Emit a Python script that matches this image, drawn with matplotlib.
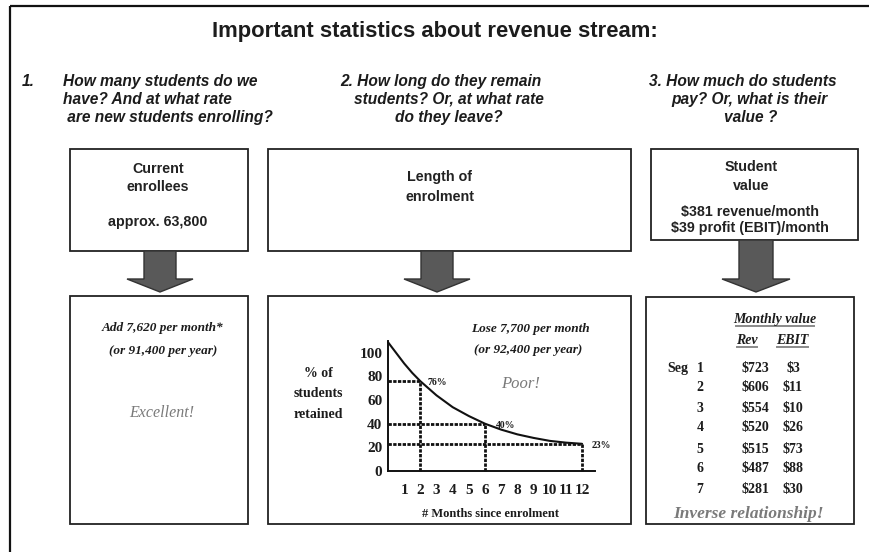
import matplotlib
matplotlib.use("Agg")
import matplotlib.pyplot as plt
from matplotlib.patches import Rectangle, Polygon

# ---------------- data ----------------
title = "Important statistics about revenue stream:"
q1_lines = ["How many students do we", "have? And at what rate", " are new students enrolling?"]
q2_lines = ["2. How long do they remain", "students? Or, at what rate", "do they leave?"]
q3_lines = ["3. How much do students", "pay? Or, what is their", "value ?"]

box1_lines = ["Current", "enrollees", "approx. 63,800"]
box2_lines = ["Length of", "enrolment"]
box3_lines = ["Student", "value", "$381 revenue/month", "$39 profit (EBIT)/month"]

add_lines = ["Add 7,620 per month*", "(or 91,400 per year)"]
lose_lines = ["Lose 7,700 per month", "(or 92,400 per year)"]

# retention curve (% of students retained vs months since enrolment)
months = [0, 0.5, 1, 1.5, 2, 3, 4, 5, 6, 7, 8, 9, 10, 11, 12]
retention = [109, 100, 91, 83, 76, 64, 54, 46.5, 40, 35, 31, 28, 25.5, 24, 23]
marked_months = [2, 6, 12]
marked_values = [76, 40, 23]
marked_labels = ["76%", "40%", "23%"]
y_ticks = [0, 20, 40, 60, 80, 100]
x_ticks = [1, 2, 3, 4, 5, 6, 7, 8, 9, 10, 11, 12]

# student value by segment
segments = ["1", "2", "3", "4", "5", "6", "7"]
seg_rev = ["$723", "$606", "$554", "$520", "$515", "$487", "$281"]
seg_ebit = ["$3", "$11", "$10", "$26", "$73", "$88", "$30"]

# ---------------- figure ----------------
W, H = 870, 552
fig = plt.figure(figsize=(W / 100, H / 100), dpi=100)
fig.patch.set_facecolor("white")
bg = fig.add_axes([0, 0, 1, 1])
bg.set_xlim(0, W)
bg.set_ylim(H, 0)
bg.axis("off")

SANS = ["Liberation Sans", "DejaVu Sans"]
SERIF = ["Liberation Serif", "DejaVu Serif"]
DARK = "#1c1c1c"
GRAY = "#7a7a7a"

# outer frame (only left/top visible)
bg.add_patch(Rectangle((10, 6), 900, 600, fill=False, lw=1.6, ec="#111111"))

# title
bg.text(435, 37, title, family=SANS, weight="bold", fontsize=15.8,
        ha="center", va="baseline", color=DARK)

# questions
QFS = 11.2
baselines_q = [86, 104, 122]
bg.text(22, baselines_q[0], "1.", family=SANS, weight="bold", style="italic",
        fontsize=QFS, ha="left", va="baseline", color=DARK)
for ln, yb in zip(q1_lines, baselines_q):
    bg.text(63, yb, ln, family=SANS, weight="bold", style="italic",
            fontsize=QFS, ha="left", va="baseline", color=DARK)
for ln, yb, xc in zip(q2_lines, baselines_q, [441, 449, 449]):
    bg.text(xc, yb, ln, family=SANS, weight="bold", style="italic",
            fontsize=QFS, ha="center", va="baseline", color=DARK)
for ln, yb, xc in zip(q3_lines, baselines_q, [743, 749, 751]):
    bg.text(xc, yb, ln, family=SANS, weight="bold", style="italic",
            fontsize=QFS, ha="center", va="baseline", color=DARK)

# boxes
def box(x0, y0, x1, y1):
    bg.add_patch(Rectangle((x0, y0), x1 - x0, y1 - y0, fill=False,
                           lw=1.3, ec="#222222"))

box(70, 149, 248, 251)
box(268, 149, 631, 251)
box(651, 149, 858, 240)
box(70, 296, 248, 524)
box(268, 296, 631, 524)
box(646, 297, 854, 524)

# arrows
def arrow(cx, ytop, half_shaft=16, half_head=33, yhead=279, ytip=292):
    pts = [(cx - half_shaft, ytop), (cx + half_shaft, ytop), (cx + half_shaft, yhead),
           (cx + half_head, yhead), (cx, ytip), (cx - half_head, yhead),
           (cx - half_shaft, yhead)]
    bg.add_patch(Polygon(pts, closed=True, fc="#595959", ec="#333333", lw=1.0))

arrow(160, 251)
arrow(437, 251)
arrow(756, 240, half_shaft=17, half_head=34)

# top box texts
for ln, yb in zip(box1_lines, [173, 191, 226]):
    bg.text(158, yb, ln, family=SANS, weight="bold", fontsize=10.3,
            ha="center", va="baseline", color="#222222")
for ln, yb in zip(box2_lines, [181, 201]):
    bg.text(440, yb, ln, family=SANS, weight="bold", fontsize=10.3,
            ha="center", va="baseline", color="#222222")
for ln, xc, yb in zip(box3_lines, [751, 751, 750, 750], [171, 190, 216, 232]):
    bg.text(xc, yb, ln, family=SANS, weight="bold", fontsize=10.3,
            ha="center", va="baseline", color="#222222")

# bottom box 1
for ln, yb in zip(add_lines, [331, 354]):
    bg.text(163, yb, ln, family=SERIF, weight="bold", style="italic",
            fontsize=9.5, ha="center", va="baseline", color=DARK)
bg.text(162, 417, "Excellent!", family=SERIF, style="italic", fontsize=11.5,
        ha="center", va="baseline", color=GRAY)

# bottom box 2 texts
for ln, xc, yb in zip(lose_lines, [530, 528], [332, 353]):
    bg.text(xc, yb, ln, family=SERIF, weight="bold", style="italic",
            fontsize=9.5, ha="center", va="baseline", color=DARK)
bg.text(521, 388, "Poor!", family=SERIF, style="italic", fontsize=12,
        ha="center", va="baseline", color=GRAY)
for ln, yb in zip(["% of", "students", "retained"], [377, 397, 418]):
    bg.text(318, yb, ln, family=SERIF, weight="bold", fontsize=10,
            ha="center", va="baseline", color=DARK)
bg.text(491, 517, "# Months since enrolment", family=SERIF, weight="bold",
        fontsize=9, ha="center", va="baseline", color=DARK)

# bottom box 3 (table)
bg.text(775, 323, "Monthly value", family=SERIF, weight="bold", style="italic",
        fontsize=10, ha="center", va="baseline", color=DARK)
bg.plot([736, 814], [326, 326], color="#8a8a8a", lw=1.4)
bg.text(747, 344, "Rev", family=SERIF, weight="bold", style="italic",
        fontsize=10, ha="center", va="baseline", color=DARK)
bg.plot([737, 757], [347, 347], color="#8a8a8a", lw=1.4)
bg.text(792, 344, "EBIT", family=SERIF, weight="bold", style="italic",
        fontsize=10, ha="center", va="baseline", color=DARK)
bg.plot([777, 808], [347, 347], color="#8a8a8a", lw=1.4)

row_base = [372, 391, 412, 431, 453, 472, 493]
bg.text(678, row_base[0], "Seg", family=SERIF, weight="bold", fontsize=10,
        ha="center", va="baseline", color=DARK)
for s, r, e, yb in zip(segments, seg_rev, seg_ebit, row_base):
    bg.text(700, yb, s, family=SERIF, weight="bold", fontsize=10,
            ha="center", va="baseline", color=DARK)
    bg.text(755, yb, r, family=SERIF, weight="bold", fontsize=10,
            ha="center", va="baseline", color=DARK)
    bg.text(793, yb, e, family=SERIF, weight="bold", fontsize=10,
            ha="center", va="baseline", color=DARK)
bg.text(748, 518, "Inverse relationship!", family=SERIF, weight="bold",
        style="italic", fontsize=12.5, ha="center", va="baseline", color=GRAY)

# ---------------- retention chart ----------------
ax_l, ax_r, ax_b, ax_t = 388, 595, 471, 341
ax = fig.add_axes([ax_l / W, (H - ax_b) / H, (ax_r - ax_l) / W, (ax_b - ax_t) / H])
ax.patch.set_alpha(0)
ax.set_xlim(0, 12.8)
ax.set_ylim(0, 110)
for sp in ["top", "right"]:
    ax.spines[sp].set_visible(False)
for sp in ["left", "bottom"]:
    ax.spines[sp].set_linewidth(1.4)
    ax.spines[sp].set_color("#111111")

ax.plot(months, retention, color="#111111", lw=1.5, solid_capstyle="round",
        clip_on=False)
for m, v in zip(marked_months, marked_values):
    ax.plot([0, m], [v, v], color="#111111", lw=2.0, ls=(0, (1.2, 0.5)),
            clip_on=False)
    ax.plot([m, m], [0, v], color="#111111", lw=2.0, ls=(0, (1.2, 0.5)),
            clip_on=False)
for m, v, lab, dx in zip(marked_months, marked_values, marked_labels, [5, 8, 7]):
    ax.annotate(lab, (m, v), xytext=(dx, -3), textcoords="offset points",
                family=SERIF, weight="bold", fontsize=7, ha="left", va="baseline",
                color=DARK)

ax.set_yticks(y_ticks)
ax.set_yticklabels([str(t) for t in y_ticks], family=SERIF, weight="bold",
                   fontsize=11, color=DARK)
ax.set_xticks(x_ticks)
ax.set_xticklabels([str(t) for t in x_ticks], family=SERIF, weight="bold",
                   fontsize=11, color=DARK)
ax.tick_params(axis="both", length=0)
ax.tick_params(axis="y", pad=4)
ax.tick_params(axis="x", pad=9)

fig.savefig("out.png", dpi=100, facecolor="white")
